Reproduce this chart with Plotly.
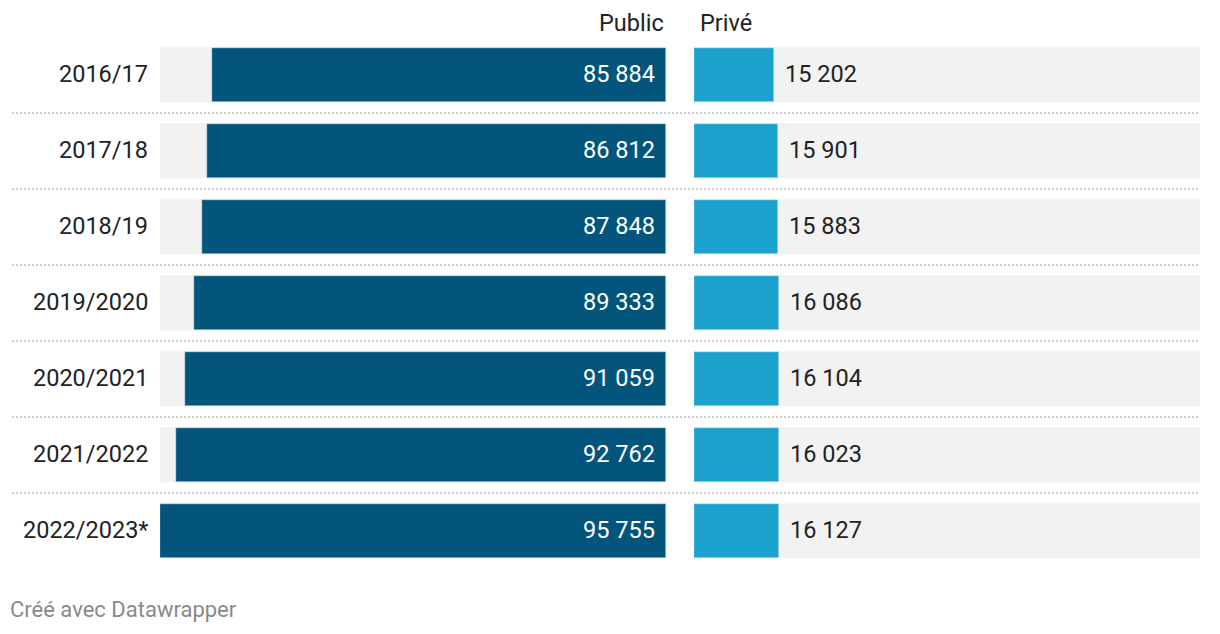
import plotly.graph_objects as go

years = ["2016/17", "2017/18", "2018/19", "2019/2020", "2020/2021", "2021/2022", "2022/2023*"]
public = [85884, 86812, 87848, 89333, 91059, 92762, 95755]
prive = [15202, 15901, 15883, 16086, 16104, 16023, 16127]
headers = ["Public", "Privé"]

W, H = 1220, 634
DARK = "#03557b"
LIGHT = "#1aa1cc"
BG = "#f2f2f2"
FONT = "Roboto"
FS = 23.5

def fmt(v):
    return f"{v:,}".replace(",", "\u00a0")

n = len(years)
ypos = list(range(n))
xmax = max(public)

fig = go.Figure()
fig.add_trace(go.Bar(y=ypos, x=[xmax] * n, orientation="h", marker_color=BG, width=0.71,
                     xaxis="x", yaxis="y", hoverinfo="skip", showlegend=False))
fig.add_trace(go.Bar(y=ypos, x=[xmax] * n, orientation="h", marker_color=BG, width=0.71,
                     xaxis="x2", yaxis="y", hoverinfo="skip", showlegend=False))
fig.add_trace(go.Bar(y=ypos, x=public, orientation="h", marker_color=DARK, width=0.71,
                     xaxis="x", yaxis="y", showlegend=False))
fig.add_trace(go.Bar(y=ypos, x=prive, orientation="h", marker_color=LIGHT, width=0.71,
                     xaxis="x2", yaxis="y", showlegend=False))

y_top = -75 / 76
y_bot = (H - 75) / 76

fig.update_layout(
    width=W, height=H, margin=dict(l=0, r=0, t=0, b=0),
    paper_bgcolor="white", plot_bgcolor="white",
    barmode="overlay", bargap=0,
    font=dict(family=FONT, color="#222"),
    xaxis=dict(domain=[160 / W, 666 / W], range=[xmax, 0], visible=False, fixedrange=True),
    xaxis2=dict(domain=[694 / W, 1200 / W], range=[0, xmax], visible=False, fixedrange=True),
    yaxis=dict(range=[y_bot, y_top], visible=False, fixedrange=True),
)

shapes = []
for i in range(n - 1):
    shapes.append(dict(type="line", xref="paper", yref="y", x0=12 / W, x1=1200 / W,
                       y0=i + 0.5, y1=i + 0.5, line=dict(color="#cccccc", width=2, dash="2px,2px")))
fig.update_layout(shapes=shapes)

ann = []
for i, yr in enumerate(years):
    ann.append(dict(xref="paper", yref="y", x=150 / W, y=i, text=yr, showarrow=False,
                    xanchor="right", yanchor="middle", yshift=1,
                    font=dict(size=FS, color="#222", family=FONT)))
    ann.append(dict(xref="x", yref="y", x=0, y=i, text=fmt(public[i]), showarrow=False,
                    xanchor="right", yanchor="middle", xshift=-9, yshift=1,
                    font=dict(size=FS, color="white", family=FONT)))
    ann.append(dict(xref="x2", yref="y", x=prive[i], y=i, text=fmt(prive[i]), showarrow=False,
                    xanchor="left", yanchor="middle", xshift=9, yshift=1,
                    font=dict(size=FS, color="#222", family=FONT)))
ann.append(dict(xref="paper", yref="paper", x=666 / W, y=1 - 23 / H, text=headers[0], showarrow=False,
                xanchor="right", yanchor="middle", font=dict(size=FS, color="#222", family=FONT)))
ann.append(dict(xref="paper", yref="paper", x=698 / W, y=1 - 23 / H, text=headers[1], showarrow=False,
                xanchor="left", yanchor="middle", font=dict(size=FS, color="#222", family=FONT)))
ann.append(dict(xref="paper", yref="paper", x=8 / W, y=1 - 609 / H, text="Créé avec Datawrapper",
                showarrow=False, xanchor="left", yanchor="middle",
                font=dict(size=22, color="#8a8a8a", family=FONT)))
fig.update_layout(annotations=ann)

fig.write_html("out.html", config={"displayModeBar": False},
               post_script="document.body.style.margin='0';document.body.style.padding='0';")
